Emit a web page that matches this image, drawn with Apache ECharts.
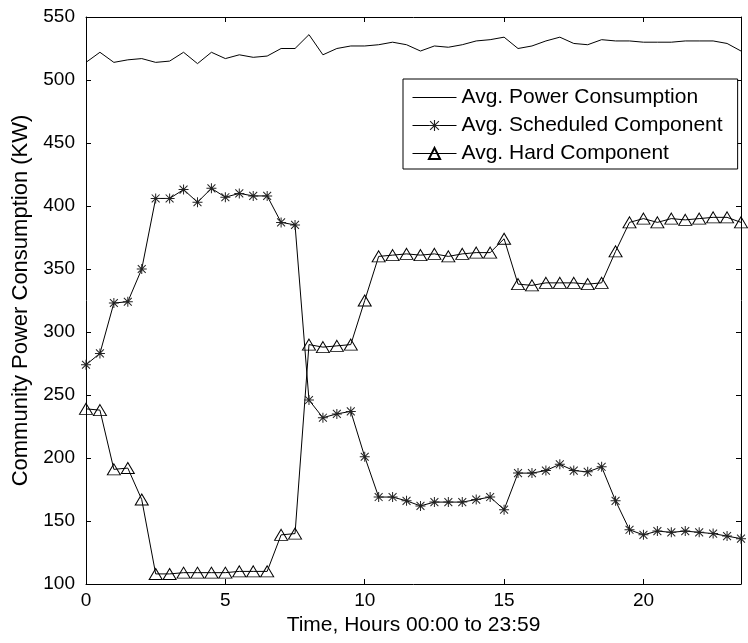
<!DOCTYPE html>
<html>
<head>
<meta charset="utf-8">
<script src="https://cdn.jsdelivr.net/npm/echarts@6/dist/echarts.min.js"></script>
<style>
  html, body { margin: 0; padding: 0; background: #fff; }
  #power-chart { width: 748px; height: 643px; }
</style>
</head>
<body>
<div id="power-chart"></div>
<script>
const hours = [0, 0.5, 1, 1.5, 2, 2.5, 3, 3.5, 4, 4.5, 5, 5.5, 6, 6.5, 7, 7.5, 8, 8.5, 9, 9.5, 10, 10.5, 11, 11.5,
  12, 12.5, 13, 13.5, 14, 14.5, 15, 15.5, 16, 16.5, 17, 17.5, 18, 18.5, 19, 19.5, 20, 20.5, 21, 21.5, 22, 22.5, 23, 23.5]
const powerConsumption = [514, 522, 514, 516, 517, 514, 515, 522, 513, 522, 517, 520, 518, 519, 525, 525, 536, 520, 525, 527, 527, 528, 530, 528,
  523, 527, 526, 528, 531, 532, 534, 525, 527, 531, 534, 529, 528, 532, 531, 531, 530, 530, 530, 531, 531, 531, 529, 523]
const scheduledComponent = [274, 283, 323, 324, 350, 406, 406, 413, 403, 414, 407, 410, 408, 408, 387, 385, 246, 232, 235, 237, 201, 169, 169, 166,
  162, 165, 165, 165, 167, 169, 159, 188, 188, 190, 195, 190, 189, 193, 166, 143, 139, 142, 141, 142, 141, 140, 138, 136]
const hardComponent = [239, 238, 191, 192, 167, 108, 108, 109, 109, 109, 109, 110, 110, 110, 139, 140, 290, 288, 289, 290, 325, 360, 361, 362,
  361, 362, 360, 362, 363, 363, 374, 338, 337, 339, 339, 339, 338, 339, 364, 387, 390, 387, 390, 389, 390, 391, 391, 387]
const xTicks = [0, 5, 10, 15, 20]
const seriesNames = ['Avg. Power Consumption', 'Avg. Scheduled Component', 'Avg. Hard Component']

const font = "'Liberation Sans', Arial, sans-serif"
// matlab style '*' marker, made of four thin bars
const asterisk = 'path://M9 0L11 0L11 20L9 20Z M0 9L20 9L20 11L0 11Z M1.4 2.8L2.8 1.4L18.6 17.2L17.2 18.6Z M17.2 1.4L18.6 2.8L2.8 18.6L1.4 17.2Z'

const pairs = values => hours.map((h, i) => [h, values[i]])

const baseX = {
  type: 'value',
  min: 0,
  max: 23.5,
  interval: 5,
  splitLine: { show: false },
  axisLine: { show: true, onZero: false, lineStyle: { color: '#000', width: 1 } },
  axisTick: { show: true, inside: true, length: 5, lineStyle: { color: '#000' } },
}
const baseY = {
  type: 'value',
  min: 100,
  max: 550,
  interval: 50,
  splitLine: { show: false },
  axisLine: { show: true, onZero: false, lineStyle: { color: '#000', width: 1 } },
  axisTick: { show: true, inside: true, length: 5, lineStyle: { color: '#000' } },
}

const option = {
  animation: false,
  backgroundColor: '#fff',
  textStyle: { fontFamily: font },
  grid: {
    left: 86,
    right: 7,
    top: 17,
    bottom: 59,
    containLabel: false,
    outerBoundsMode: 'none'
  },
  legend: {
    data: seriesNames,
    orient: 'vertical',
    left: 403,
    top: 79,
    padding: [8, 15, 5, 9],
    itemGap: 7,
    itemWidth: 44,
    itemHeight: 14,
    backgroundColor: '#fff',
    borderColor: '#000',
    borderWidth: 1,
    lineStyle: { width: 1 },
    textStyle: { fontSize: 21, color: '#000', fontFamily: font, lineHeight: 21 }
  },
  xAxis: [
    Object.assign({}, baseX, {
      position: 'bottom',
      name: 'Time, Hours 00:00 to 23:59',
      nameLocation: 'middle',
      nameGap: 31,
      nameTextStyle: { fontSize: 21, color: '#000', fontFamily: font },
      axisLabel: {
        show: true,
        margin: 7,
        fontSize: 19,
        color: '#000',
        fontFamily: font,
        showMaxLabel: false,
        formatter: v => (xTicks.indexOf(v) >= 0 ? String(v) : '')
      }
    }),
    Object.assign({}, baseX, { position: 'top', axisLabel: { show: false } })
  ],
  yAxis: [
    Object.assign({}, baseY, {
      position: 'left',
      name: 'Community Power Consumption (KW)',
      nameLocation: 'middle',
      nameGap: 47,
      nameTextStyle: { fontSize: 22, color: '#000', fontFamily: font },
      axisLabel: { show: true, margin: 11, fontSize: 19, color: '#000', fontFamily: font }
    }),
    Object.assign({}, baseY, { position: 'right', axisLabel: { show: false } })
  ],
  series: [
    {
      name: seriesNames[0],
      type: 'line',
      // plain line: symbol kept only so the legend icon has a (transparent) one
      symbol: 'circle',
      showSymbol: false,
      data: pairs(powerConsumption),
      lineStyle: { color: '#000', width: 1 },
      itemStyle: { color: 'rgba(0,0,0,0)' },
      emphasis: { disabled: true }
    },
    {
      name: seriesNames[1],
      type: 'line',
      symbol: asterisk,
      symbolSize: 10,
      showAllSymbol: true,
      data: pairs(scheduledComponent),
      lineStyle: { color: '#000', width: 1 },
      itemStyle: { color: '#222' },
      emphasis: { disabled: true }
    },
    {
      name: seriesNames[2],
      type: 'line',
      symbol: 'triangle',
      symbolSize: [13, 11],
      showAllSymbol: true,
      data: pairs(hardComponent),
      lineStyle: { color: '#000', width: 1 },
      itemStyle: { color: 'rgba(255,255,255,0)', borderColor: '#000', borderWidth: 1 },
      emphasis: { disabled: true }
    }
  ]
}

const chart = echarts.init(document.getElementById('power-chart'))
chart.setOption(option)
</script>
</body>
</html>
